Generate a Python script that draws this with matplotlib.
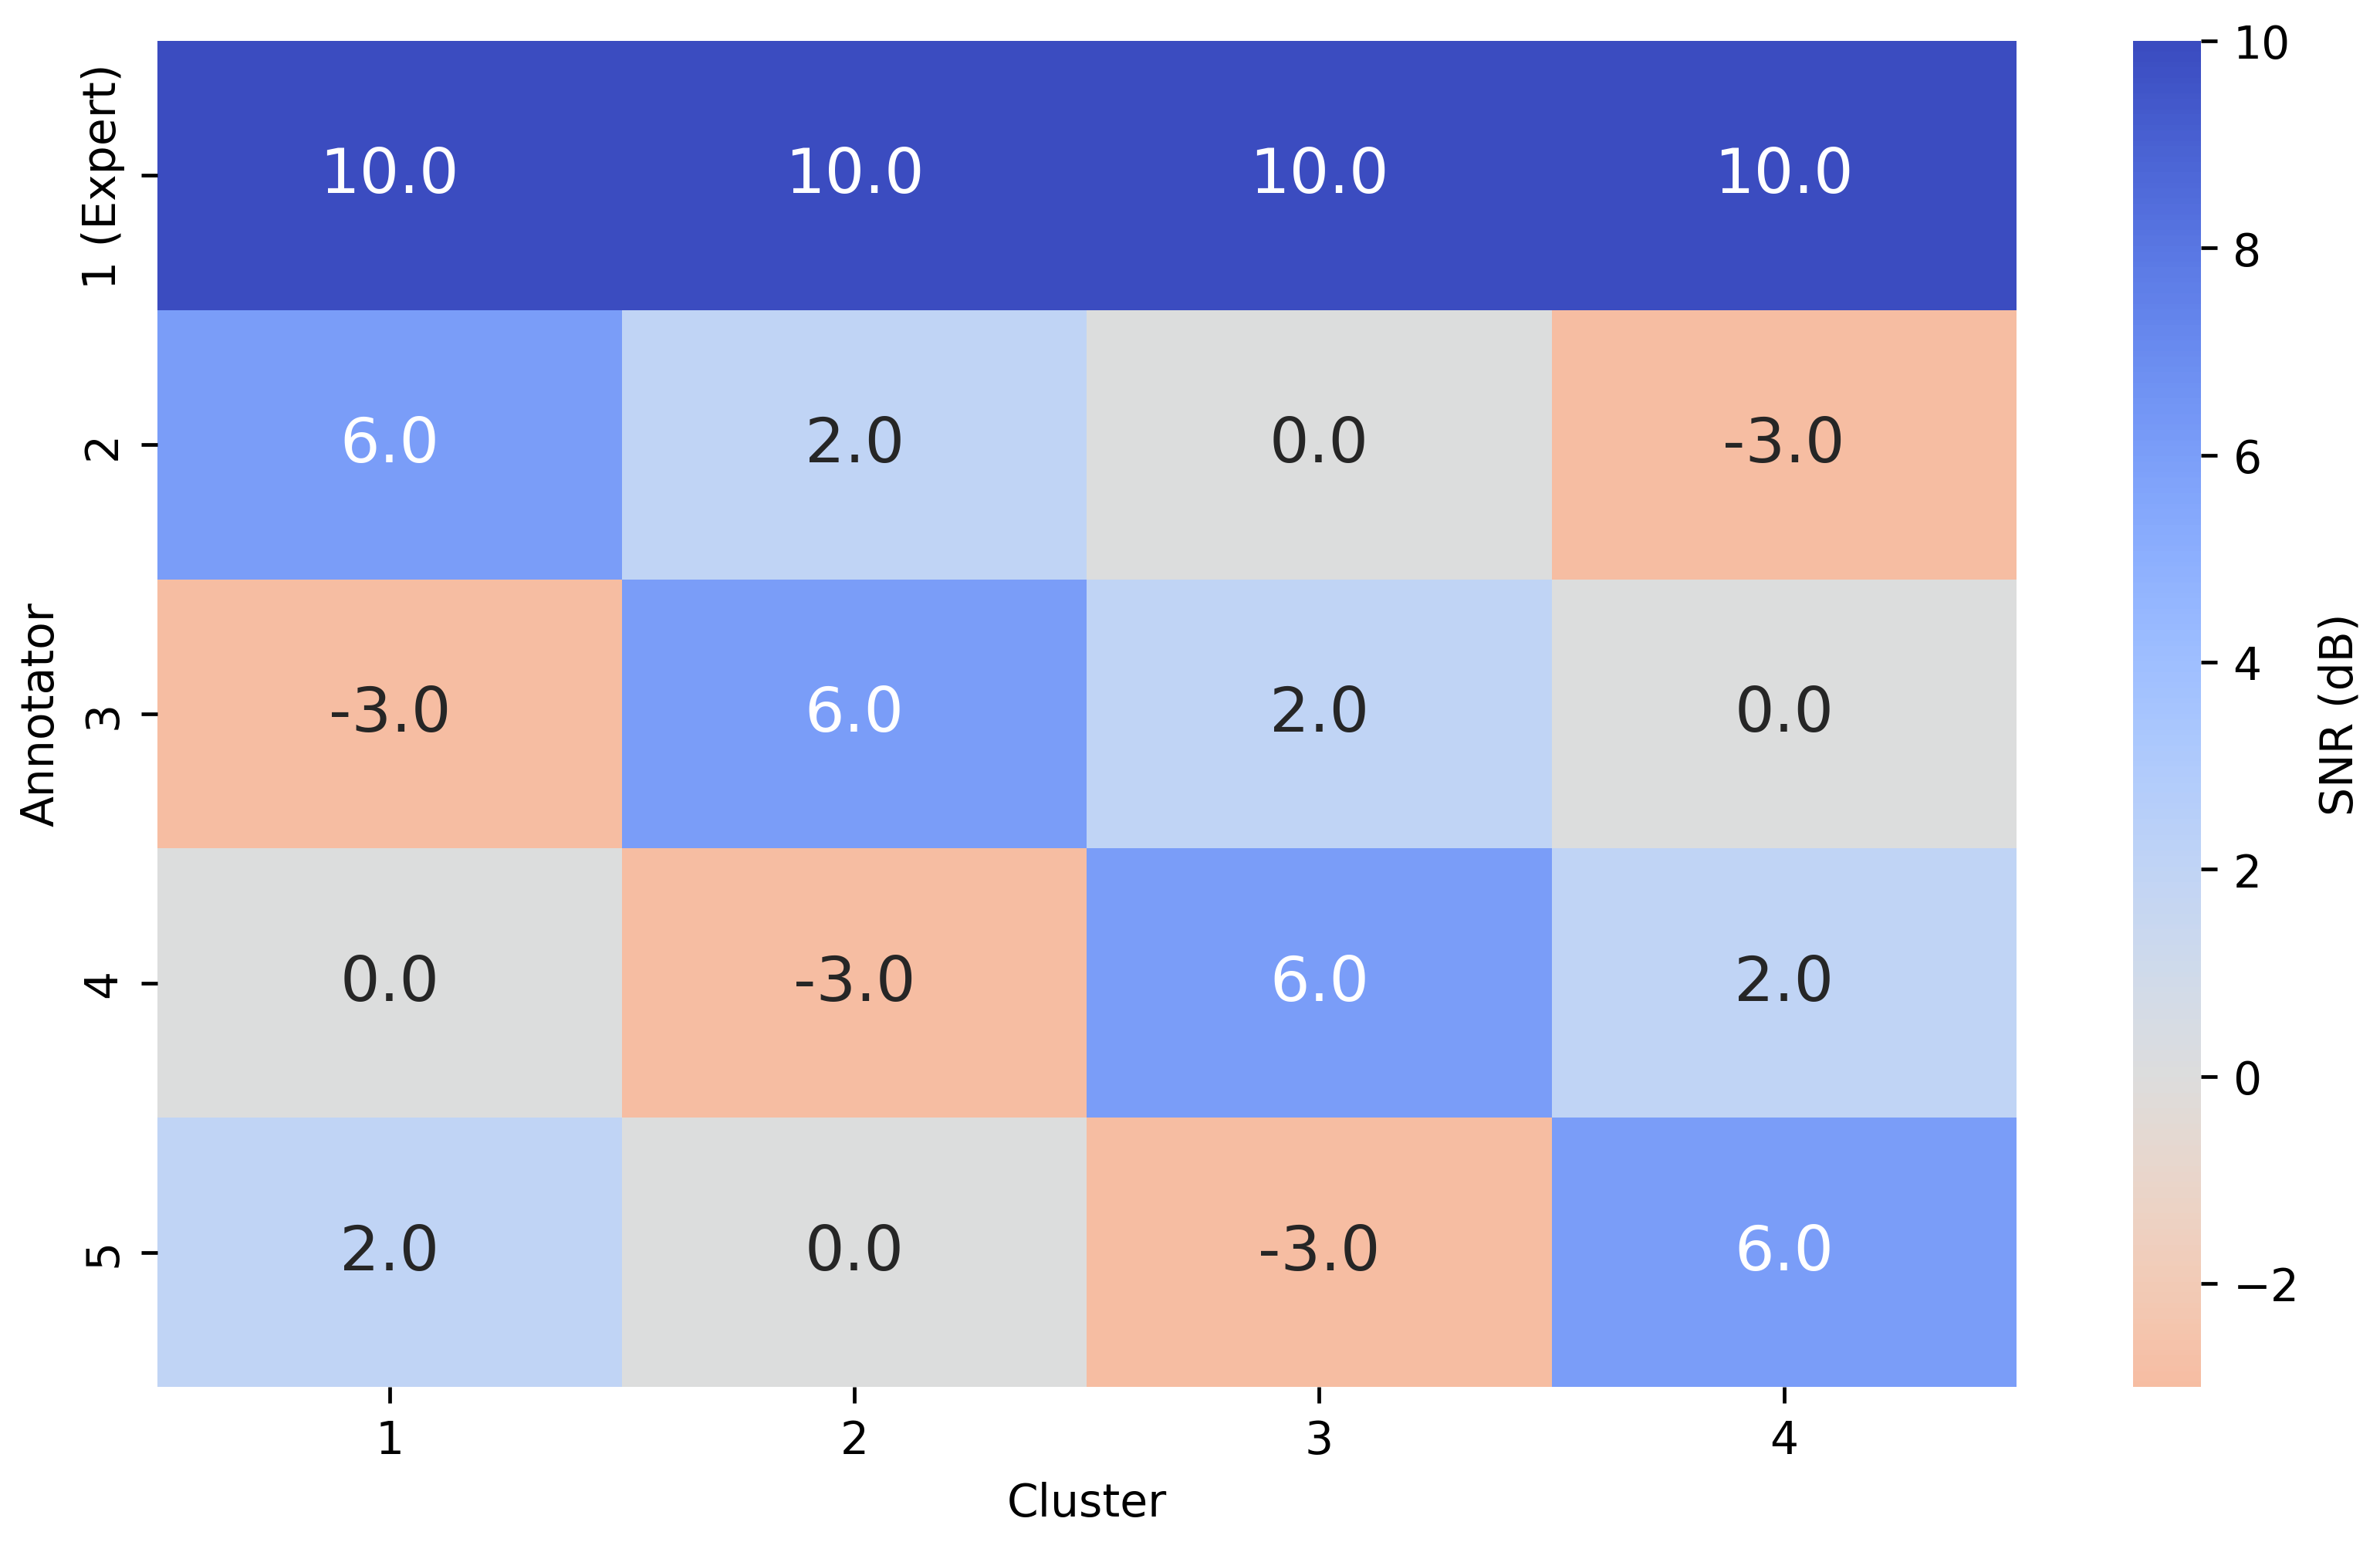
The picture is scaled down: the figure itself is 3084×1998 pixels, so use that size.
import numpy as np
import matplotlib
matplotlib.use("Agg")
import matplotlib.pyplot as plt
import seaborn as sns

# data
annotators = ["1 (Expert)", "2", "3", "4", "5"]
clusters = ["1", "2", "3", "4"]
snr = np.array([
    [10.0, 10.0, 10.0, 10.0],
    [6.0, 2.0, 0.0, -3.0],
    [-3.0, 6.0, 2.0, 0.0],
    [0.0, -3.0, 6.0, 2.0],
    [2.0, 0.0, -3.0, 6.0],
])

# the reference looks like a default figure rendered at a higher dpi,
# so scale tick sizes / pads up to match
k = 1.42
plt.rcParams.update({
    "font.size": 10 * k,
    "xtick.major.size": 3.5 * k, "ytick.major.size": 3.5 * k,
    "xtick.major.width": 0.8 * k, "ytick.major.width": 0.8 * k,
    "xtick.major.pad": 3.5 * k, "ytick.major.pad": 3.5 * k,
    "axes.labelpad": 4.0 * k,
})

fig = plt.figure(figsize=(10.283, 6.663), dpi=300)
ax = fig.add_axes([0.066, 0.1005, 0.781, 0.8725])
cax = fig.add_axes([0.896, 0.1005, 0.0285, 0.8725])

sns.heatmap(snr, ax=ax, cbar_ax=cax, cmap="coolwarm_r", center=0,
            vmin=-3, vmax=10, annot=True, fmt=".1f",
            annot_kws={"fontsize": 19.5},
            xticklabels=clusters, yticklabels=annotators,
            cbar_kws={"label": "SNR (dB)"})

ax.set_xlabel("Cluster", fontsize=14)
ax.set_ylabel("Annotator", fontsize=14)
ax.tick_params(labelsize=14)
cax.tick_params(labelsize=14)
cax.yaxis.label.set_size(14)

fig.savefig("out.png", dpi=300)
